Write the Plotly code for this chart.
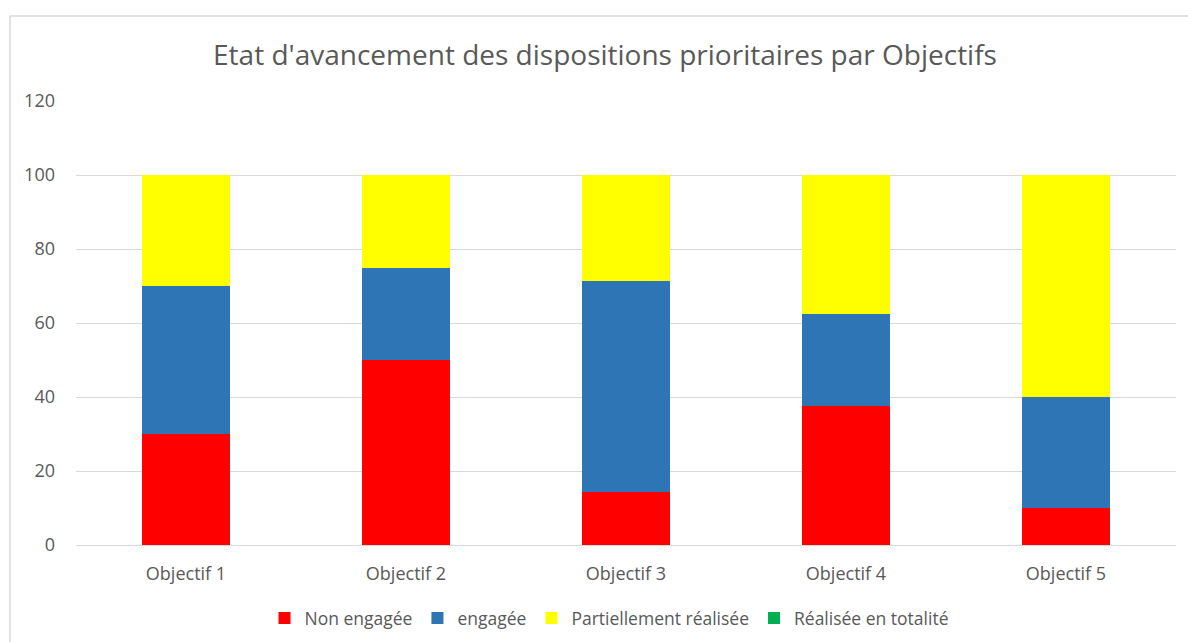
import plotly.graph_objects as go

categories = ["Objectif 1", "Objectif 2", "Objectif 3", "Objectif 4", "Objectif 5"]
non_engagee = [30, 50, 14.3, 37.5, 10]
engagee = [40, 25, 57.1, 25, 30]
partiellement = [30, 25, 28.6, 37.5, 60]
totalite = [0, 0, 0, 0, 0]
y_ticks = [0, 20, 40, 60, 80, 100, 120]

series = [
    ("Non engagée", non_engagee, "#ff0000"),
    ("engagée", engagee, "#2e75b6"),
    ("Partiellement réalisée", partiellement, "#ffff00"),
    ("Réalisée en totalité", totalite, "#00b050"),
]

fig = go.Figure()
for name, vals, col in series:
    fig.add_trace(go.Bar(x=categories, y=vals, name=name, marker=dict(color=col, line=dict(width=0)),
                         hoverinfo="x+y+name"))

W, H = 1188, 642
ml, mr, mt, mb = 76, 12, 101, 97
pw, ph = W - ml - mr, H - mt - mb

def px(x):
    return (x - ml) / pw

def py(y):
    return (H - mb - y) / ph

grey = "#595959"
fig.update_layout(
    width=W, height=H,
    margin=dict(l=ml, r=mr, t=mt, b=mb, autoexpand=False),
    barmode="stack", bargap=0.6,
    paper_bgcolor="white", plot_bgcolor="white",
    font=dict(family="Open Sans", color=grey, size=17),
    title=dict(text="Etat d'avancement des dispositions prioritaires par Objectifs",
               x=605 / W, xref="container", xanchor="center",
               y=1 - 55 / H, yref="container", yanchor="middle",
               font=dict(size=28, color=grey, family="Open Sans")),
    legend=dict(orientation="h", x=609 / W, xref="container", xanchor="center",
                y=1 - 618 / H, yref="container", yanchor="middle",
                font=dict(size=17.5, color=grey), itemsizing="constant", traceorder="normal",
                itemwidth=30),
    yaxis=dict(range=[0, 120], tickvals=y_ticks, showgrid=True, gridcolor="#d9d9d9", gridwidth=1,
               zeroline=False, showline=False, ticklabelstandoff=20,
               tickfont=dict(size=18, color=grey), fixedrange=True),
    xaxis=dict(showline=True, linecolor="#d9d9d9", linewidth=1, ticks="",
               ticklabelstandoff=12, tickfont=dict(size=18, color=grey)),
    shapes=[
        dict(type="line", xref="paper", yref="paper", x0=px(10), x1=px(10), y0=py(H + 5), y1=py(16),
             line=dict(color="#d9d9d9", width=1.5)),
        dict(type="line", xref="paper", yref="paper", x0=px(10), x1=px(W + 5), y0=py(16), y1=py(16),
             line=dict(color="#d9d9d9", width=1.5)),
    ],
)

fig.write_html("out.html", config={"displayModeBar": False},
               post_script="document.body.style.margin='0';document.body.style.overflow='hidden';")
